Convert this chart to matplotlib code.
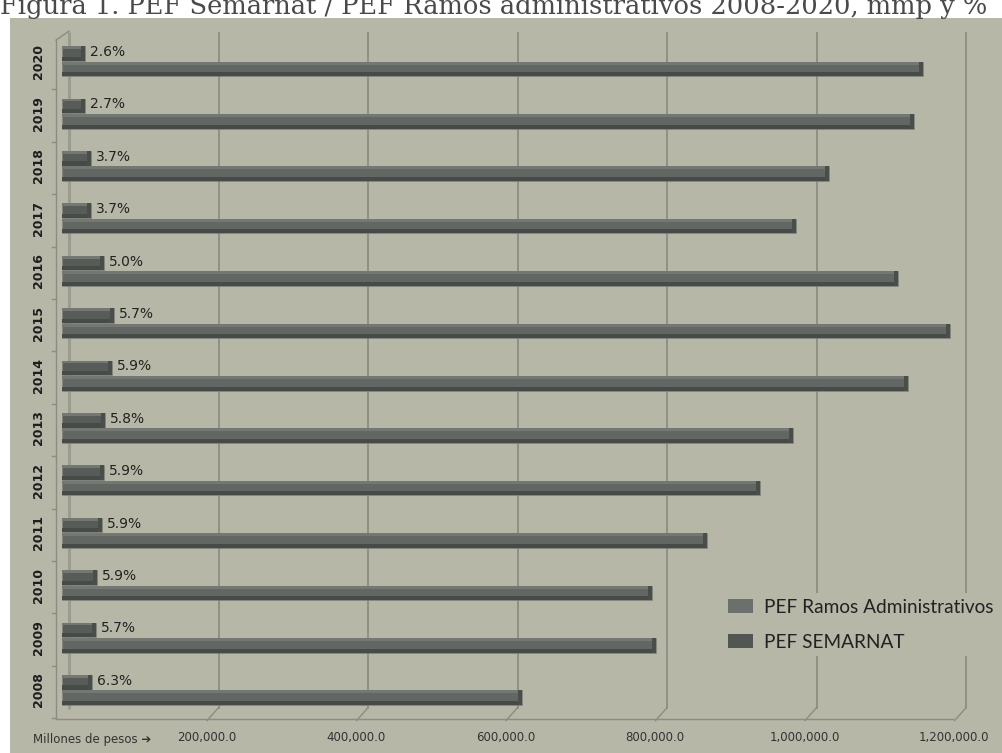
import matplotlib
matplotlib.use('Agg')
import matplotlib.pyplot as plt
import numpy as np
from matplotlib.transforms import ScaledTranslation, blended_transform_factory
from matplotlib.patches import Rectangle, Patch

# ---------------- data ----------------
years = ['2008', '2009', '2010', '2011', '2012', '2013', '2014',
         '2015', '2016', '2017', '2018', '2019', '2020']
ramos = [615000, 795000, 789000, 863000, 934000, 978000, 1132000,
         1188000, 1118000, 982000, 1026000, 1140000, 1152000]
semarnat = [40000, 45500, 46500, 53500, 56000, 57500, 66500,
            69500, 56000, 38500, 38500, 30500, 30500]
pct_labels = ['6.3%', '5.7%', '5.9%', '5.9%', '5.9%', '5.8%', '5.9%',
              '5.7%', '5.0%', '3.7%', '3.7%', '2.7%', '2.6%']
xtick_vals = [200000, 400000, 600000, 800000, 1000000, 1200000]
xtick_labels = ['200,000.0', '400,000.0', '600,000.0', '800,000.0',
                '1,000,000.0', '1,200,000.0']
legend_labels = ['PEF Ramos Administrativos', 'PEF SEMARNAT']
title = 'Figura 1. PEF Semarnat / PEF Ramos administrativos 2008-2020, mmp y %'

# ---------------- style ----------------
BG = '#b6b7a7'
GRID = '#8b8d83'
RAMOS_C = '#636763'
SEM_C = '#585c58'
DARK = '#474b47'
LIGHT = '#737873'

W, H, DPI = 1002, 753, 100
fig = plt.figure(figsize=(W / DPI, H / DPI), dpi=DPI)
fig.patch.set_facecolor('white')
fig.patches.append(Rectangle((10 / W, 0), (W - 10) / W, (H - 18) / H,
                             transform=fig.transFigure, facecolor=BG,
                             edgecolor='none', zorder=-5))

fig.text(0.0, 1 - 14 / H, title, fontsize=18.5, family='DejaVu Serif',
         color='#4a4a4a', va='baseline', ha='left', zorder=-4)

# axes geometry (pixels)
XMAX = 1240000
ax_left_px, ax_w_px = 62, 926.9
ax_top_px, ax_bot_px = 35, 716.2
ax = fig.add_axes([ax_left_px / W, (H - ax_bot_px) / H,
                   ax_w_px / W, (ax_bot_px - ax_top_px) / H])
ax.set_zorder(1)
ax.set_facecolor('none')
ax.set_xlim(0, XMAX)
ax.set_ylim(-0.5, len(years) - 0.5)
for s in ax.spines.values():
    s.set_visible(False)

def px(dx, dy=0):
    return ScaledTranslation(dx / DPI, -dy / DPI, fig.dpi_scale_trans)

bt = blended_transform_factory(ax.transData, ax.transAxes)
dpp = XMAX / ax_w_px  # data units per pixel

# back wall gridlines
for v in [0] + xtick_vals:
    lw = 2.2 if v == 0 else 1.3
    col = '#9a9c92' if v == 0 else GRID
    ax.plot([v, v], [0.011, 1.0045], transform=bt + px(7), color=col,
            lw=lw, clip_on=False, zorder=0.5, solid_capstyle='butt')
    if v > 0:
        ax.plot([v - 4.5 * dpp, v + 7 * dpp], [-0.0065, 0.0125],
                transform=bt, color=GRID, lw=1.0, clip_on=False, zorder=0.5)

# front floor line
ax.plot([0, xtick_vals[-1]], [-0.0045, -0.0045], transform=bt + px(-6),
        color=GRID, lw=1.0, clip_on=False, zorder=0.5)
# front left axis
ax.plot([0, 0], [-0.0045, 0.9925], transform=bt + px(-6), color=GRID,
        lw=1.0, clip_on=False, zorder=0.5)
ax.plot([-6 * dpp, 7 * dpp], [0.9925, 1.0057], transform=bt, color=GRID,
        lw=1.0, clip_on=False, zorder=0.5)
ytr = blended_transform_factory(ax.transAxes, ax.transData)
for k in range(len(years)):
    ax.plot([-10 / ax_w_px, -6 / ax_w_px], [k - 0.5, k - 0.5],
            transform=ytr + px(0, 2), color=GRID, lw=1.0, clip_on=False)

# bars
y = np.arange(len(years))
h = 0.28
y_sem = y + 0.148
y_ram = y - 0.148

def shaded_bars(yy, vals, base):
    vals = np.asarray(vals, dtype=float)
    ax.barh(yy, vals, height=h, color=base, edgecolor='#7e827c',
            linewidth=0.4, zorder=3)
    ax.barh(yy - h * 0.5 + h * 0.14, vals, height=h * 0.28, color=DARK,
            zorder=3.1)
    ax.barh(yy + h * 0.5 - h * 0.1, vals, height=h * 0.2, color=LIGHT,
            zorder=3.1)
    ax.barh(yy, np.full_like(vals, 4 * dpp), left=vals - 4 * dpp, height=h,
            color='#4a4e4a', zorder=3.2)

shaded_bars(y_ram, ramos, RAMOS_C)
shaded_bars(y_sem, semarnat, SEM_C)

for yy, v, lab in zip(y_sem, semarnat, pct_labels):
    ax.annotate(lab, (v, yy), xytext=(3.5, 1), textcoords='offset points',
                ha='left', va='center', fontsize=10, color='#222222',
                family='DejaVu Sans', zorder=5)

# y tick labels (years)
ax.set_yticks(y)
ax.set_yticklabels(years, rotation=90, va='center', fontsize=9,
                   fontweight='bold', color='#1e1e1e')
ax.tick_params(axis='y', length=0, pad=12.5)

# x tick labels
ax.set_xticks(xtick_vals)
ax.set_xticklabels(xtick_labels, fontsize=8.5, color='#333333')
ax.tick_params(axis='x', length=0, pad=11)
for lab in ax.get_xticklabels():
    lab.set_transform(lab.get_transform() + px(-5))

fig.text(33 / W, 1 - 739 / H, 'Millones de pesos \u2794', fontsize=8.5,
         color='#333333', va='center', ha='left')

# legend
handles = [Patch(facecolor='#6c706c', edgecolor='none'),
           Patch(facecolor='#525652', edgecolor='none')]
leg = fig.legend(handles, legend_labels, loc='upper left',
                 bbox_to_anchor=(722 / W, 1 - 593 / H), frameon=True,
                 facecolor=BG, edgecolor='none', framealpha=1,
                 prop={'family': 'Lato', 'size': 13.7}, handlelength=1.35,
                 handleheight=0.8, handletextpad=0.55, labelspacing=0.95,
                 borderpad=0.3, borderaxespad=0)
for t in leg.get_texts():
    t.set_color('#222222')
leg.set_zorder(6)

fig.savefig('out.png', dpi=DPI, facecolor=fig.get_facecolor())
